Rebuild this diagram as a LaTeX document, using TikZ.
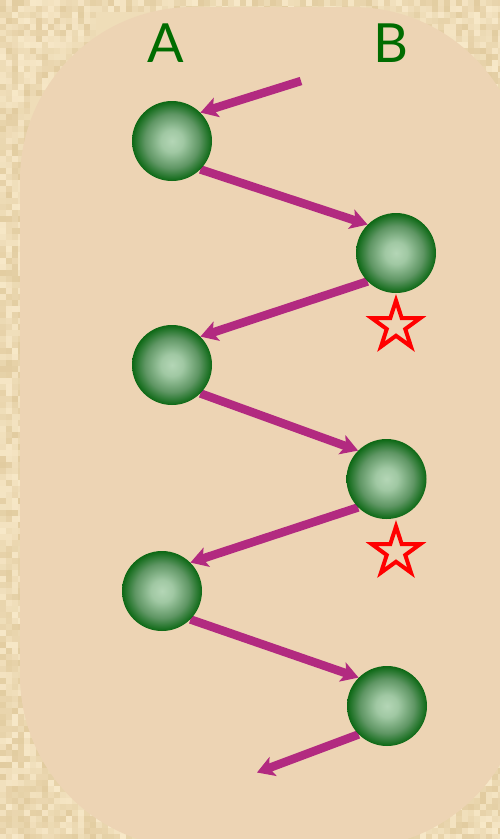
\documentclass[tikz,border=0pt]{standalone}
\usepackage{fontspec}
\setsansfont{Lato}
\usetikzlibrary{arrows.meta,shapes.geometric}
\definecolor{peach}{RGB}{237,212,180}
\definecolor{parchA}{RGB}{247,232,200}
\definecolor{parchB}{RGB}{226,204,160}
\definecolor{labgreen}{RGB}{0,108,0}
\definecolor{arrcol}{RGB}{178,42,128}
\definecolor{ballin}{RGB}{180,214,182}
\definecolor{ballA}{RGB}{160,200,163}
\definecolor{ballB}{RGB}{95,150,100}
\definecolor{ballout}{RGB}{12,104,20}
\pgfdeclareradialshading{ballshade}{\pgfpoint{0bp}{0bp}}{color(0bp)=(ballin); color(7bp)=(ballA); color(17bp)=(ballB); color(25bp)=(ballout); color(50bp)=(ballout)}
\pgfdeclarelayer{back}
\pgfdeclarelayer{mid}
\pgfsetlayers{back,mid,main}
\tikzset{
  ball/.style={circle, minimum size=80pt, inner sep=0pt, shading=ballshade},
  lab/.style={font=\sffamily\fontsize{54}{54}\selectfont, text=labgreen, inner sep=0pt, anchor=base},
  arr/.style={draw=arrcol, line width=8.5pt, -{Stealth[length=17pt,width=20pt,inset=4pt]}},
  starmark/.style={star, star points=5, star point ratio=2.618, minimum size=51pt, inner sep=0pt, draw=red, line width=4pt}
}
\begin{document}
\begin{tikzpicture}[x=1pt,y=-1pt]
\useasboundingbox (0,0) rectangle (500,839);
\clip (0,0) rectangle (500,839);
\begin{pgfonlayer}{back}
\fill[parchA!60!parchB] (0,0) rectangle (500,839);
\pgfmathsetseed{7}
\foreach \x in {0,6,...,24} \foreach \y in {0,6,...,834} {\pgfmathtruncatemacro\r{random(0,100)}\fill[parchA!\r!parchB] (\x,\y) rectangle ++(6,6);}
\foreach \x in {30,36,...,498} \foreach \y in {0,6} {\pgfmathtruncatemacro\r{random(0,100)}\fill[parchA!\r!parchB] (\x,\y) rectangle ++(6,6);}
\foreach \x in {30,36,...,90} \foreach \y in {12,18,...,90} {\pgfmathtruncatemacro\r{random(0,100)}\fill[parchA!\r!parchB] (\x,\y) rectangle ++(6,6);}
\foreach \x in {408,414,...,498} \foreach \y in {12,18,...,114} {\pgfmathtruncatemacro\r{random(0,100)}\fill[parchA!\r!parchB] (\x,\y) rectangle ++(6,6);}
\foreach \x in {30,36,...,156} \foreach \y in {732,738,...,834} {\pgfmathtruncatemacro\r{random(0,100)}\fill[parchA!\r!parchB] (\x,\y) rectangle ++(6,6);}
\foreach \x in {372,378,...,498} \foreach \y in {714,720,...,834} {\pgfmathtruncatemacro\r{random(0,100)}\fill[parchA!\r!parchB] (\x,\y) rectangle ++(6,6);}
\fill[peach, rounded corners=173pt] (20,7) rectangle (525,848);
\end{pgfonlayer}

\node[lab] (la) at (166,62) {A};
\node[lab] (lb) at (391,62) {B};

\node[ball] (c1) at (172,141) {};
\node[ball] (c2) at (396,253) {};
\node[ball] (c3) at (172,365) {};
\node[ball] (c4) at (386.5,479) {};
\node[ball] (c5) at (162,591) {};
\node[ball] (c6) at (387,706) {};

\node[starmark] (s1) at (396,326) {};
\node[starmark] (s2) at (396,552) {};

\coordinate (p0) at (301,81);
\coordinate (p7) at (257,772.5);

\begin{pgfonlayer}{mid}
\draw[arr] (p0) -- (c1.45);
\draw[arr] (c1.-45) -- (c2.135);
\draw[arr] (c2.-135) -- (c3.45);
\draw[arr] (c3.-45) -- (c4.135);
\draw[arr] (c4.-135) -- (c5.45);
\draw[arr] (c5.-45) -- (c6.135);
\draw[arr] (c6.-135) -- (p7);
\end{pgfonlayer}
\end{tikzpicture}
\end{document}
